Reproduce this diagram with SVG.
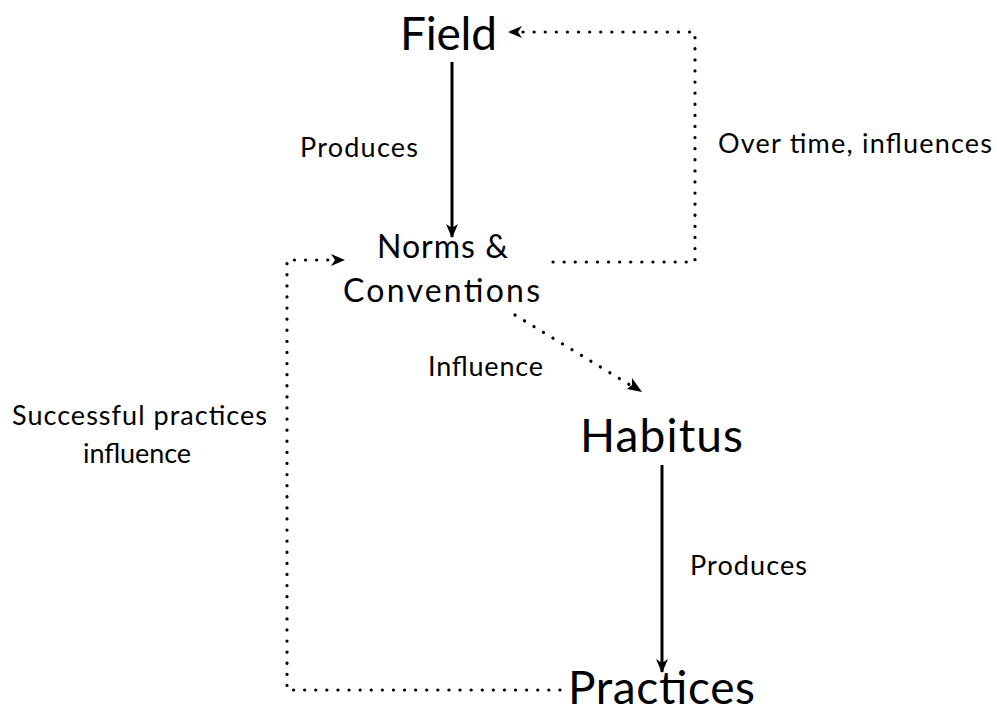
<svg xmlns="http://www.w3.org/2000/svg" width="997" height="713" viewBox="0 0 997 713">
<defs>
<style>
text{font-family:Lato,"Open Sans","Liberation Sans",sans-serif;fill:#000}
.big{font-size:46px}
.mid{font-size:32px}
.lbl{font-size:27px}
.solid{fill:none;stroke:#000;stroke-width:3}
.dot{fill:none;stroke:#000;stroke-width:3.2;stroke-linecap:round;stroke-dasharray:0.1 11}
</style>
<marker id="ah" viewBox="0 0 14 14" refX="13" refY="7" markerWidth="14" markerHeight="14" markerUnits="userSpaceOnUse" orient="auto">
<path d="M0,1 L14,7 L0,13 L4,7 Z" fill="#000"/>
</marker>
</defs>
<rect width="997" height="713" fill="#fff"/>
<g id="connectors">
<line class="solid" x1="452" y1="62" x2="452" y2="237" marker-end="url(#ah)"/>
<line class="solid" x1="662" y1="465" x2="662" y2="672" marker-end="url(#ah)"/>
<polyline class="dot" points="553,262 695,262 695,32 510,32"/>
<path d="M508,32 L522,26 L518,32 L522,38 Z" fill="#000"/>
<polyline class="dot" points="560,690 287,690 287,260 335,260"/>
<path d="M345,260 L331,254 L335,260 L331,266 Z" fill="#000"/>
<line class="dot" x1="515" y1="315" x2="630" y2="385"/>
<path d="M642,392 L627,389 L632,385 L632,378 Z" fill="#000"/>
</g>
<g id="label-produces1"><text class="lbl" x="300" y="157" textLength="118">Produces</text></g>
<g id="label-overtime"><text class="lbl" x="718" y="153" textLength="274">Over time, influences</text></g>
<g id="label-influence"><text class="lbl" x="428" y="376" textLength="115">Influence</text></g>
<g id="label-successful"><text class="lbl" x="12" y="425" textLength="255">Successful practices</text><text class="lbl" x="83" y="463" textLength="108">influence</text></g>
<g id="label-produces2"><text class="lbl" x="690" y="575" textLength="117">Produces</text></g>
<g id="node-field"><text class="big" x="400" y="50" textLength="97">Field</text></g>
<g id="node-norms"><text class="mid" x="377" y="258" textLength="131">Norms &amp;</text><text class="mid" x="343" y="302" textLength="197">Conventions</text></g>
<g id="node-habitus"><text class="big" x="580" y="452" textLength="163">Habitus</text></g>
<g id="node-practices"><text class="big" x="568" y="704" textLength="187">Practices</text></g>
</svg>
